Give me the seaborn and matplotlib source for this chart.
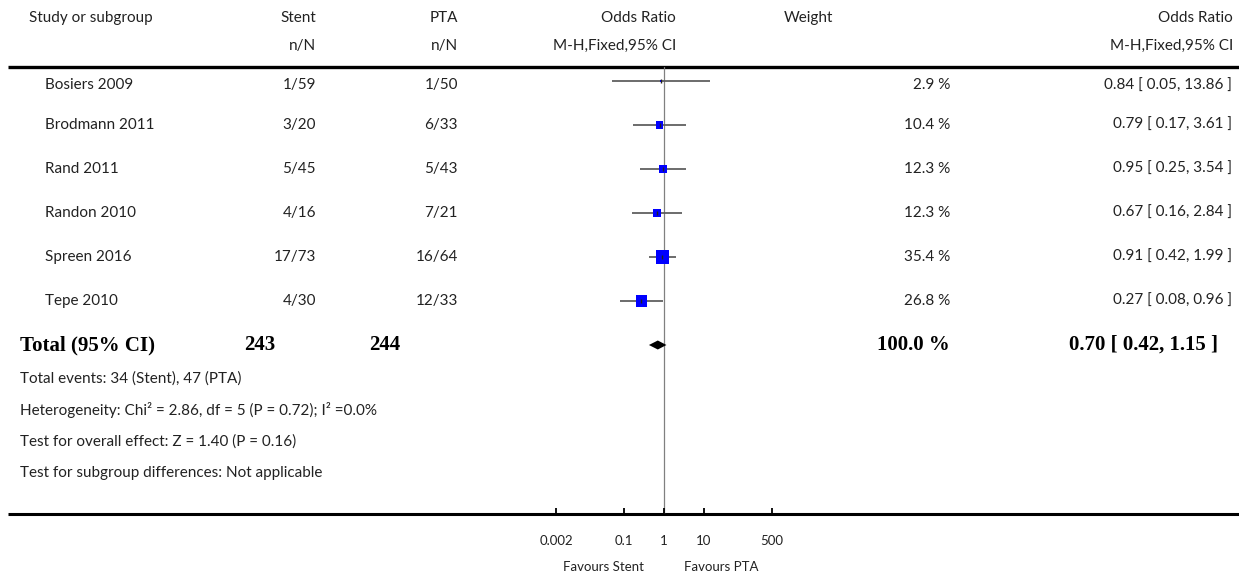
import matplotlib
matplotlib.use("Agg")
import matplotlib.pyplot as plt
import matplotlib.transforms as mtransforms
from matplotlib.ticker import NullLocator
import numpy as np
import pandas as pd
import seaborn as sns

# data
studies = ["Bosiers 2009", "Brodmann 2011", "Rand 2011", "Randon 2010", "Spreen 2016", "Tepe 2010"]
stent_events = [1, 3, 5, 4, 17, 4]
stent_total = [59, 20, 45, 16, 73, 30]
pta_events = [1, 6, 5, 7, 16, 12]
pta_total = [50, 33, 43, 21, 64, 33]
weights = [2.9, 10.4, 12.3, 12.3, 35.4, 26.8]
odds_ratio = [0.84, 0.79, 0.95, 0.67, 0.91, 0.27]
ci_low = [0.05, 0.17, 0.25, 0.16, 0.42, 0.08]
ci_high = [13.86, 3.61, 3.54, 2.84, 1.99, 0.96]

total_stent = 243
total_pta = 244
total_weight = 100.0
total_or = 0.70
total_low = 0.42
total_high = 1.15

tick_values = [0.002, 0.1, 1, 10, 500]
tick_labels = ["0.002", "0.1", "1", "10", "500"]

footnotes = [
    "Total events: 34 (Stent), 47 (PTA)",
    "Heterogeneity: Chi\u00b2 = 2.86, df = 5 (P = 0.72); I\u00b2 =0.0%",
    "Test for overall effect: Z = 1.40 (P = 0.16)",
    "Test for subgroup differences: Not applicable",
]

df = pd.DataFrame({
    "study": studies,
    "row": np.arange(len(studies)),
    "or": odds_ratio,
    "lo": ci_low,
    "hi": ci_high,
    "w": weights,
})
total_row = len(studies)

sns.set_theme(style="white")
plt.rcParams["font.family"] = ["Lato", "DejaVu Sans"]
TXT = "#222222"
SERIF = ["Liberation Serif", "DejaVu Serif"]

W, H = 1239, 582
fig = plt.figure(figsize=(W / 100, H / 100), dpi=100)
fig.patch.set_facecolor("white")

# background axes in pixel units for the table part
bg = fig.add_axes([0, 0, 1, 1])
bg.set_xlim(0, W)
bg.set_ylim(H, 0)
bg.axis("off")

# forest axes (log scale)
top_px, bot_px, row0, step = 67, 514, 81, 44
ax = fig.add_axes([556 / W, 1 - bot_px / H, 216 / W, (bot_px - top_px) / H])
ax.patch.set_alpha(0)
ax.set_xscale("log")
ax.set_xlim(0.002, 500)
ax.set_ylim((bot_px - row0) / step, -(row0 - top_px) / step)

ax.axvline(1, color="#808080", lw=0.9, zorder=0)
ax.hlines(df["row"], df["lo"], df["hi"], color="#5a5a5a", lw=1.25, zorder=1)
side_px = 2.2 * np.sqrt(df["w"])
side_px = np.where(df["w"] < 5, 1.5, side_px)
sns.scatterplot(data=df, x="or", y="row", marker="s", s=(side_px * 0.72) ** 2,
                color="#0000FF", linewidth=0, ax=ax, legend=False, zorder=2)
ax.scatter(df["or"], df["row"], marker="|", s=(4 * 0.72) ** 2, color="#222222",
           linewidths=1.0, zorder=3)

dh = 4.5 / step
ax.fill([total_low, total_or, total_high, total_or],
        [total_row, total_row - dh, total_row, total_row + dh],
        color="black", lw=0, zorder=3)

for s in ax.spines.values():
    s.set_visible(False)
ax.set_xticks(tick_values)
ax.set_xticklabels(tick_labels)
ax.xaxis.set_minor_locator(NullLocator())
ax.set_yticks([])
ax.set_xlabel("")
ax.set_ylabel("")
ax.tick_params(axis="x", bottom=True, direction="in", length=4, width=1.3,
               color="black", pad=15, labelsize=9.5, labelcolor=TXT)

# horizontal rules
bg.plot([8, W], [top_px, top_px], color="black", lw=2.4, solid_capstyle="butt")
bg.plot([8, W], [bot_px, bot_px], color="black", lw=2.2, solid_capstyle="butt")

# header
fs = 11
bg.text(29, 18, "Study or subgroup", ha="left", va="center", fontsize=fs, color=TXT)
bg.text(316, 18, "Stent", ha="right", va="center", fontsize=fs, color=TXT)
bg.text(458, 18, "PTA", ha="right", va="center", fontsize=fs, color=TXT)
bg.text(676, 18, "Odds Ratio", ha="right", va="center", fontsize=fs, color=TXT)
bg.text(833, 18, "Weight", ha="right", va="center", fontsize=fs, color=TXT)
bg.text(1233, 18, "Odds Ratio", ha="right", va="center", fontsize=fs, color=TXT)
bg.text(316, 46, "n/N", ha="right", va="center", fontsize=fs, color=TXT)
bg.text(458, 46, "n/N", ha="right", va="center", fontsize=fs, color=TXT)
bg.text(676, 46, "M-H,Fixed,95% CI", ha="right", va="center", fontsize=fs, color=TXT)
bg.text(1233, 46, "M-H,Fixed,95% CI", ha="right", va="center", fontsize=fs, color=TXT)

# study rows (x in pixels, y in forest rows)
tr = mtransforms.blended_transform_factory(bg.transData, ax.transData)
for i, name in enumerate(studies):
    kw = dict(transform=tr, va="center", fontsize=fs, color=TXT)
    yt = i + (0.1 if i == 0 else 0)
    bg.text(45, yt, name, ha="left", **kw)
    bg.text(316, yt, f"{stent_events[i]}/{stent_total[i]}", ha="right", **kw)
    bg.text(458, yt, f"{pta_events[i]}/{pta_total[i]}", ha="right", **kw)
    bg.text(950, yt, f"{weights[i]:.1f} %", ha="right", **kw)
    bg.text(1232, yt, f"{odds_ratio[i]:.2f} [ {ci_low[i]:.2f}, {ci_high[i]:.2f} ]",
            ha="right", **kw)

# total row
kw = dict(transform=tr, va="center", fontsize=15, color="black",
          fontweight="bold", family=SERIF)
bg.text(20, total_row, "Total (95% CI)", ha="left", **kw)
bg.text(275, total_row, str(total_stent), ha="right", **kw)
bg.text(400, total_row, str(total_pta), ha="right", **kw)
bg.text(950, total_row, f"{total_weight:.1f} %", ha="right", **kw)
bg.text(1218, total_row, f"{total_or:.2f} [ {total_low:.2f}, {total_high:.2f} ]",
        ha="right", **kw)

for k, line in enumerate(footnotes):
    bg.text(20, 379 + 31.5 * k, line, ha="left", va="center", fontsize=fs, color=TXT)

# favours labels
bg.text(644, 567, "Favours Stent", ha="right", va="center", fontsize=9.5, color=TXT)
bg.text(684, 567, "Favours PTA", ha="left", va="center", fontsize=9.5, color=TXT)

fig.savefig("out.png", dpi=100, facecolor="white")
